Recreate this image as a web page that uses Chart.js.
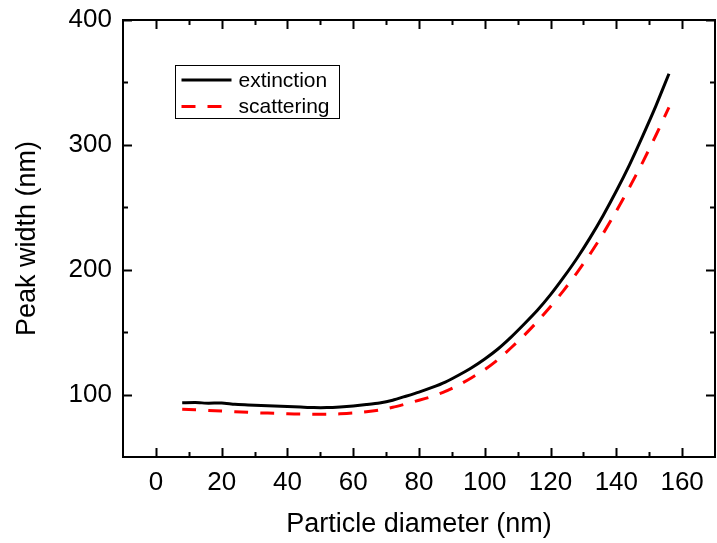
<!DOCTYPE html>
<html>
<head>
<meta charset="utf-8">
<script src="https://cdn.jsdelivr.net/npm/chart.js@4/dist/chart.umd.min.js"></script>
<style>
  html, body { margin: 0; padding: 0; background: #fff; }
  #wrap { width: 717px; height: 543px; }
</style>
</head>
<body>
<div id="wrap"><canvas id="peakChart"></canvas></div>
<script>
// particle diameter (nm)
const diameters = [8, 12, 16, 20, 24, 28, 32, 36, 40, 44, 48, 52, 56, 60, 64, 68, 72, 76,
  80, 84, 88, 92, 96, 100, 104, 108, 112, 116, 120, 124, 128, 132, 136, 140, 144, 148, 152, 156];

// peak width (nm)
const extinction = [93.4, 93.6, 93.1, 93.3, 92.2, 91.7, 91.2, 90.8, 90.4, 90.0, 89.6, 89.6, 90.1, 90.9,
  92.0, 93.3, 95.5, 98.7, 102, 105.7, 110, 115.5, 121.5, 128.5, 136.5, 146, 156.5, 167.5, 180, 194,
  209, 225.5, 243.5, 263, 284, 307, 331, 357];
const scattering = [88.2, 87.8, 87.2, 86.8, 86.2, 85.8, 85.3, 85.0, 84.6, 84.4, 84.2, 84.2, 84.6, 85.2,
  86.2, 87.6, 89.8, 92.5, 95.5, 98.5, 102.5, 107.5, 113.5, 120, 128, 137.5, 147.5, 158.5, 170.5, 183.5,
  197.5, 212.5, 229, 247, 266, 286, 307.5, 330];

const xMajor = [0, 20, 40, 60, 80, 100, 120, 140, 160];
const xMinor = [10, 30, 50, 70, 90, 110, 130, 150];
const yMajor = [100, 200, 300, 400];
const yMinor = [150, 250, 350];

const FONT = "'Liberation Sans', Arial, sans-serif";

const toPoints = ys => diameters.map((d, i) => ({ x: d, y: ys[i] }));

// frame and inward ticks on all four sides
const frameTicks = {
  id: "frameTicks",
  afterDraw(chart) {
    const { ctx, chartArea: a, scales } = chart;
    const sx = scales.x, sy = scales.y;
    ctx.save();
    ctx.strokeStyle = "#000";
    ctx.lineWidth = 2;
    ctx.strokeRect(a.left, a.top, a.right - a.left, a.bottom - a.top);
    ctx.beginPath();
    const xt = (v, len) => {
      const px = Math.round(sx.getPixelForValue(v)) + 0.5;
      ctx.moveTo(px, a.bottom); ctx.lineTo(px, a.bottom - len);
      ctx.moveTo(px, a.top); ctx.lineTo(px, a.top + len);
    };
    const yt = (v, len) => {
      const py = Math.round(sy.getPixelForValue(v)) + 0.5;
      ctx.moveTo(a.left, py); ctx.lineTo(a.left + len, py);
      ctx.moveTo(a.right, py); ctx.lineTo(a.right - len, py);
    };
    xMajor.forEach(v => xt(v, 9));
    xMinor.forEach(v => xt(v, 5));
    yMajor.forEach(v => yt(v, 9));
    yMinor.forEach(v => yt(v, 5));
    ctx.stroke();
    ctx.restore();
  }
};

// boxed legend inside the plot
const boxLegend = {
  id: "boxLegend",
  afterDraw(chart) {
    const ctx = chart.ctx;
    const bx = 175.5, by = 65.5, bw = 164, bh = 53;
    ctx.save();
    ctx.strokeStyle = "#000";
    ctx.lineWidth = 1;
    ctx.strokeRect(bx, by, bw, bh);
    ctx.font = "21px " + FONT;
    ctx.textBaseline = "middle";
    ctx.fillStyle = "#000";
    chart.data.datasets.forEach((ds, i) => {
      const y = by + 14.5 + i * 26.5;
      ctx.beginPath();
      ctx.strokeStyle = ds.borderColor;
      ctx.lineWidth = ds.borderWidth;
      ctx.setLineDash(ds.borderDash || []);
      ctx.moveTo(bx + 6, y);
      ctx.lineTo(bx + 56, y);
      ctx.stroke();
      ctx.setLineDash([]);
      ctx.fillText(ds.label, bx + 63, y + 1);
    });
    ctx.restore();
  }
};

new Chart(document.getElementById("peakChart"), {
  type: "line",
  data: {
    datasets: [
      {
        label: "extinction",
        data: toPoints(extinction),
        borderColor: "#000",
        borderWidth: 3,
        pointRadius: 0,
        tension: 0.2,
        fill: false
      },
      {
        label: "scattering",
        data: toPoints(scattering),
        borderColor: "#ff0000",
        borderWidth: 3,
        borderDash: [14, 12],
        pointRadius: 0,
        tension: 0.2,
        fill: false
      }
    ]
  },
  options: {
    responsive: true,
    maintainAspectRatio: false,
    animation: false,
    layout: { padding: { top: 20, right: 2, left: 0, bottom: 0 } },
    plugins: {
      legend: { display: false },
      tooltip: { enabled: false }
    },
    scales: {
      x: {
        type: "linear",
        min: -10,
        max: 170,
        afterBuildTicks: s => { s.ticks = xMajor.map(v => ({ value: v })); },
        afterFit: s => { s.height = 86; s.paddingLeft = 0; s.paddingRight = 0; },
        grid: { display: false, drawTicks: false },
        border: { display: false },
        ticks: {
          color: "#000",
          padding: 10,
          maxRotation: 0,
          autoSkip: false,
          font: { family: FONT, size: 26 }
        },
        title: {
          display: true,
          text: "Particle diameter (nm)",
          color: "#000",
          padding: { top: 0, bottom: 2 },
          font: { family: FONT, size: 27 }
        }
      },
      y: {
        min: 50,
        max: 400,
        afterBuildTicks: s => { s.ticks = yMajor.map(v => ({ value: v })); },
        afterFit: s => { s.width = 123; s.paddingTop = 0; s.paddingBottom = 0; },
        grid: { display: false, drawTicks: false },
        border: { display: false },
        ticks: {
          color: "#000",
          padding: 11,
          autoSkip: false,
          font: { family: FONT, size: 26 }
        },
        title: {
          display: true,
          text: "Peak width (nm)",
          color: "#000",
          padding: { top: 11, bottom: 0 },
          font: { family: FONT, size: 27 }
        }
      }
    }
  },
  plugins: [frameTicks, boxLegend]
});
</script>
</body>
</html>
